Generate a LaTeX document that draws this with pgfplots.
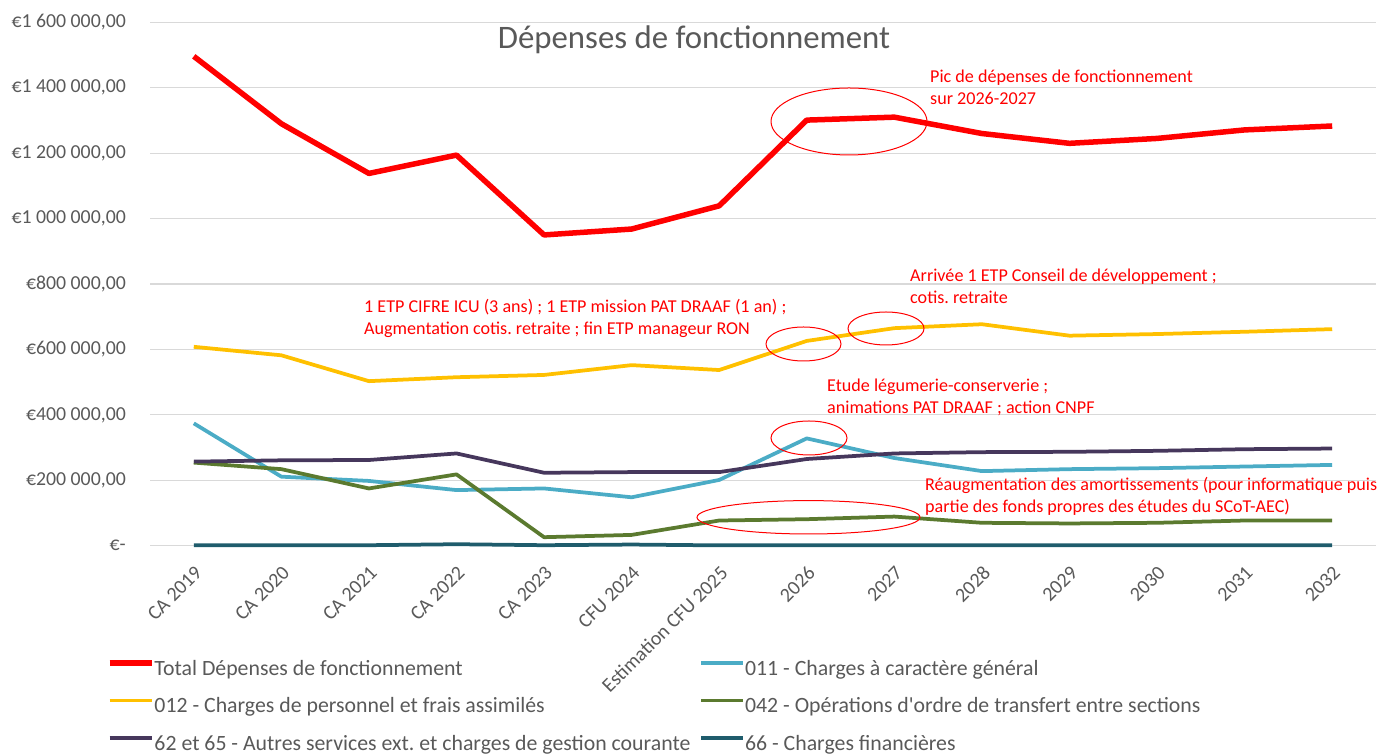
\documentclass[border=0pt]{standalone}
\usepackage{fontspec}
\setmainfont{Carlito}[Ligatures=TeXOff]
\usepackage{pgfplots}
\pgfplotsset{compat=1.18}
\definecolor{cRed}{HTML}{FF0000}
\definecolor{cBlue}{HTML}{4BACC6}
\definecolor{cYel}{HTML}{FFC000}
\definecolor{cGreen}{HTML}{5B7A2F}
\definecolor{cPurp}{HTML}{46375C}
\definecolor{cTeal}{HTML}{1F5C6C}
\definecolor{cTxt}{HTML}{595959}
\definecolor{cGrid}{HTML}{D9D9D9}
\frenchspacing
\begin{document}
\begin{tikzpicture}[x=1pt,y=1pt]
\path[use as bounding box] (0,0) rectangle (1386,754);
\begin{axis}[
  at={(150pt,208.3pt)}, anchor=south west,
  scale only axis, width=1226pt, height=523.4pt,
  xmin=-0.5, xmax=13.5, ymin=0, ymax=1600000,
  scaled y ticks=false,
  clip=false,
  axis line style={draw=none},
  major tick style={draw=none}, minor tick style={draw=none},
  ymajorgrids, grid style={cGrid, line width=1.2pt},
  ytick={0,200000,400000,600000,800000,1000000,1200000,1400000,1600000},
  yticklabels={{€-},{€200 000,00},{€400 000,00},{€600 000,00},{€800 000,00},{€1 000 000,00},{€1 200 000,00},{€1 400 000,00},{€1 600 000,00}},
  yticklabel style={font=\fontsize{19.8}{24}\selectfont, text=cTxt, anchor=east, inner sep=0pt, xshift=-24pt},
  xtick={0,1,2,3,4,5,6,7,8,9,10,11,12,13},
  xticklabels={CA 2019,CA 2020,CA 2021,CA 2022,CA 2023,CFU 2024,Estimation CFU 2025,2026,2027,2028,2029,2030,2031,2032},
  xticklabel style={font=\fontsize{20}{24}\selectfont, text=cTxt, rotate=45, anchor=north east, inner sep=0pt},
  xticklabel shift=19pt,
  legend columns=2,
  legend cell align=left,
  legend style={at={(axis description cs:-0.0351,-0.2165)}, anchor=north west, draw=none, fill=none,
    inner sep=0pt, outer sep=0pt, font=\fontsize{21.8}{26}\selectfont, text=cTxt,
    row sep=16.5pt,
    nodes={inner sep=0pt, text height=16pt, text depth=5pt},
    /tikz/every even column/.append style={column sep=9pt}},
  legend image code/.code={\draw[#1] (0pt,6.5pt) -- (42pt,6.5pt);},
  line join=round,
]
\addplot[cRed, line width=5.5pt] coordinates {(0,1496000) (1,1290000) (2,1138000) (3,1194000) (4,950000) (5,968000) (6,1039000) (7,1301000) (8,1310000) (9,1260000) (10,1230000) (11,1245000) (12,1271000) (13,1283000)};
\addlegendentry{Total Dépenses de fonctionnement}
\addplot[cBlue, line width=3.75pt] coordinates {(0,374000) (1,211000) (2,198000) (3,170000) (4,175000) (5,148000) (6,201000) (7,328000) (8,268000) (9,228000) (10,234000) (11,237000) (12,242000) (13,247000)};
\addlegendentry{011 - Charges à caractère général}
\addplot[cYel, line width=3.75pt] coordinates {(0,608000) (1,582000) (2,503000) (3,515000) (4,522000) (5,552000) (6,537000) (7,626000) (8,665000) (9,677000) (10,642000) (11,647000) (12,654000) (13,662000)};
\addlegendentry{012 - Charges de personnel et frais assimilés}
\addplot[cGreen, line width=3.75pt] coordinates {(0,254000) (1,234000) (2,175000) (3,218000) (4,26000) (5,33000) (6,77000) (7,81000) (8,89000) (9,70000) (10,68000) (11,70000) (12,77000) (13,77000)};
\addlegendentry{042 - Opérations d'ordre de transfert entre sections}
\addplot[cPurp, line width=3.75pt] coordinates {(0,257000) (1,261000) (2,262000) (3,282000) (4,223000) (5,225000) (6,225000) (7,265000) (8,282000) (9,286000) (10,287000) (11,290000) (12,295000) (13,297000)};
\addlegendentry{62 et 65 - Autres services ext. et charges de gestion courante}
\addplot[cTeal, line width=3.75pt] coordinates {(0,1500) (1,1500) (2,1500) (3,4500) (4,1500) (5,3500) (6,1000) (7,1000) (8,1000) (9,1000) (10,1000) (11,1000) (12,1000) (13,1000)};
\addlegendentry{66 - Charges financières}
\end{axis}
% title
\node[anchor=base, text=cTxt, font=\fontsize{32.8}{38}\selectfont, inner sep=0pt] at (694,705.7) {Dépenses de fonctionnement};
% annotations
\begin{scope}[every node/.style={anchor=base west, text=red, font=\fontsize{18.1}{22}\selectfont, inner sep=0pt}]
\node at (930,671) {Pic de dépenses de fonctionnement};
\node at (930,649.5) {sur 2026-2027};
\node at (910,472.3) {Arrivée 1 ETP Conseil de développement ;};
\node at (910,450.7) {cotis. retraite};
\node at (364,441.3) {1 ETP CIFRE ICU (3 ans) ; 1 ETP mission PAT DRAAF (1 an) ;};
\node at (364,419.7) {Augmentation cotis. retraite ; fin ETP manageur RON};
\node at (827,362.3) {Etude légumerie-conserverie ;};
\node at (827,340.7) {animations PAT DRAAF ; action CNPF};
\node at (925,263.3) {Réaugmentation des amortissements (pour informatique puis};
\node at (925,241.7) {partie des fonds propres des études du SCoT-AEC)};
\end{scope}
\begin{scope}[red, line width=1pt]
\draw (849,632.5) ellipse [x radius=78, y radius=33.5];
\draw (803.5,410) ellipse [x radius=37.5, y radius=17];
\draw (886,425.5) ellipse [x radius=38, y radius=16.5];
\draw (809,316) ellipse [x radius=38, y radius=17];
\draw (808.5,236.7) ellipse [x radius=111.5, y radius=16.7];
\end{scope}
\end{tikzpicture}
\end{document}
